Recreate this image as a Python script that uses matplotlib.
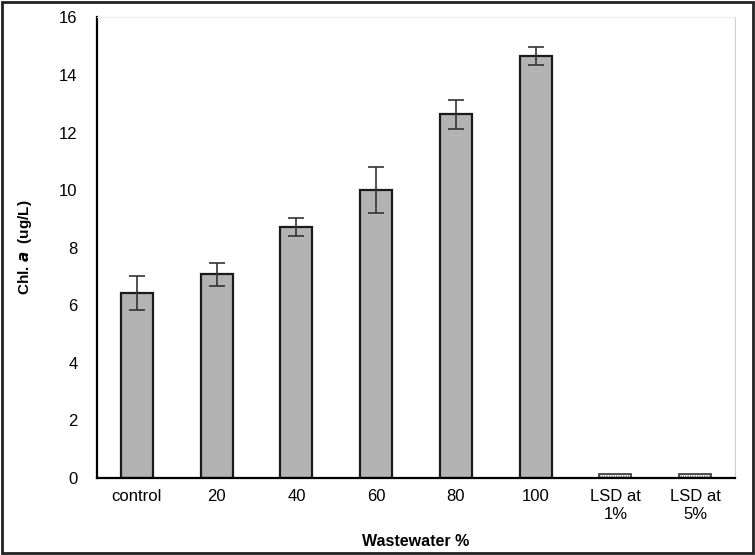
import matplotlib.pyplot as plt
import numpy as np

# values
categories = ['control', '20', '40', '60', '80', '100', 'LSD at\n1%', 'LSD at\n5%']
chl_a = [6.43, 7.08, 8.72, 10.0, 12.63, 14.66, 0.13, 0.13]
chl_err = [0.6, 0.4, 0.3, 0.8, 0.5, 0.3, 0, 0]
y_ticks = [0, 2, 4, 6, 8, 10, 12, 14, 16]

plt.rcParams['font.family'] = ['Liberation Sans', 'DejaVu Sans']

fig = plt.figure(figsize=(7.55, 5.55), dpi=100)
ax = fig.add_axes([0.1285, 0.1387, 0.845, 0.830])

x = np.arange(len(categories))
n_main = 6

# treatment bars with error bars
ax.bar(x[:n_main], chl_a[:n_main], width=0.4, color='#b3b3b3',
       edgecolor='#1a1a1a', linewidth=1.6,
       yerr=chl_err[:n_main], error_kw=dict(ecolor='#333333', elinewidth=1.2, capsize=6, capthick=1.2))

# LSD bars, small and hatched
plt.rcParams['hatch.linewidth'] = 0.6
ax.bar(x[n_main:], chl_a[n_main:], width=0.4, color='white',
       edgecolor='#333333', linewidth=1.2, hatch='.......')

ax.set_xlim(-0.5, len(categories) - 0.5)
ax.set_ylim(0, 16)
ax.set_yticks(y_ticks)
ax.set_xticks(x)
ax.set_xticklabels(categories)
ax.tick_params(axis='both', length=0, labelsize=12, pad=8)
ax.tick_params(axis='y', pad=14)

ax.spines['left'].set_linewidth(1.6)
ax.spines['bottom'].set_linewidth(1.6)
ax.spines['top'].set_color('#eeeeee')
ax.spines['right'].set_color('#d0d0d0')

ax.set_ylabel(r'Chl. $\bfit{a}$  (ug/L)', fontsize=11, fontweight='bold', labelpad=18)
ax.set_xlabel('Wastewater %', fontsize=11.5, fontweight='bold', labelpad=9)

# figure border
fig.patches.append(plt.Rectangle((0.002, 0.003), 0.995, 0.994, transform=fig.transFigure,
                                 fill=False, edgecolor='#222222', linewidth=2))

fig.savefig('out.png', dpi=100)
